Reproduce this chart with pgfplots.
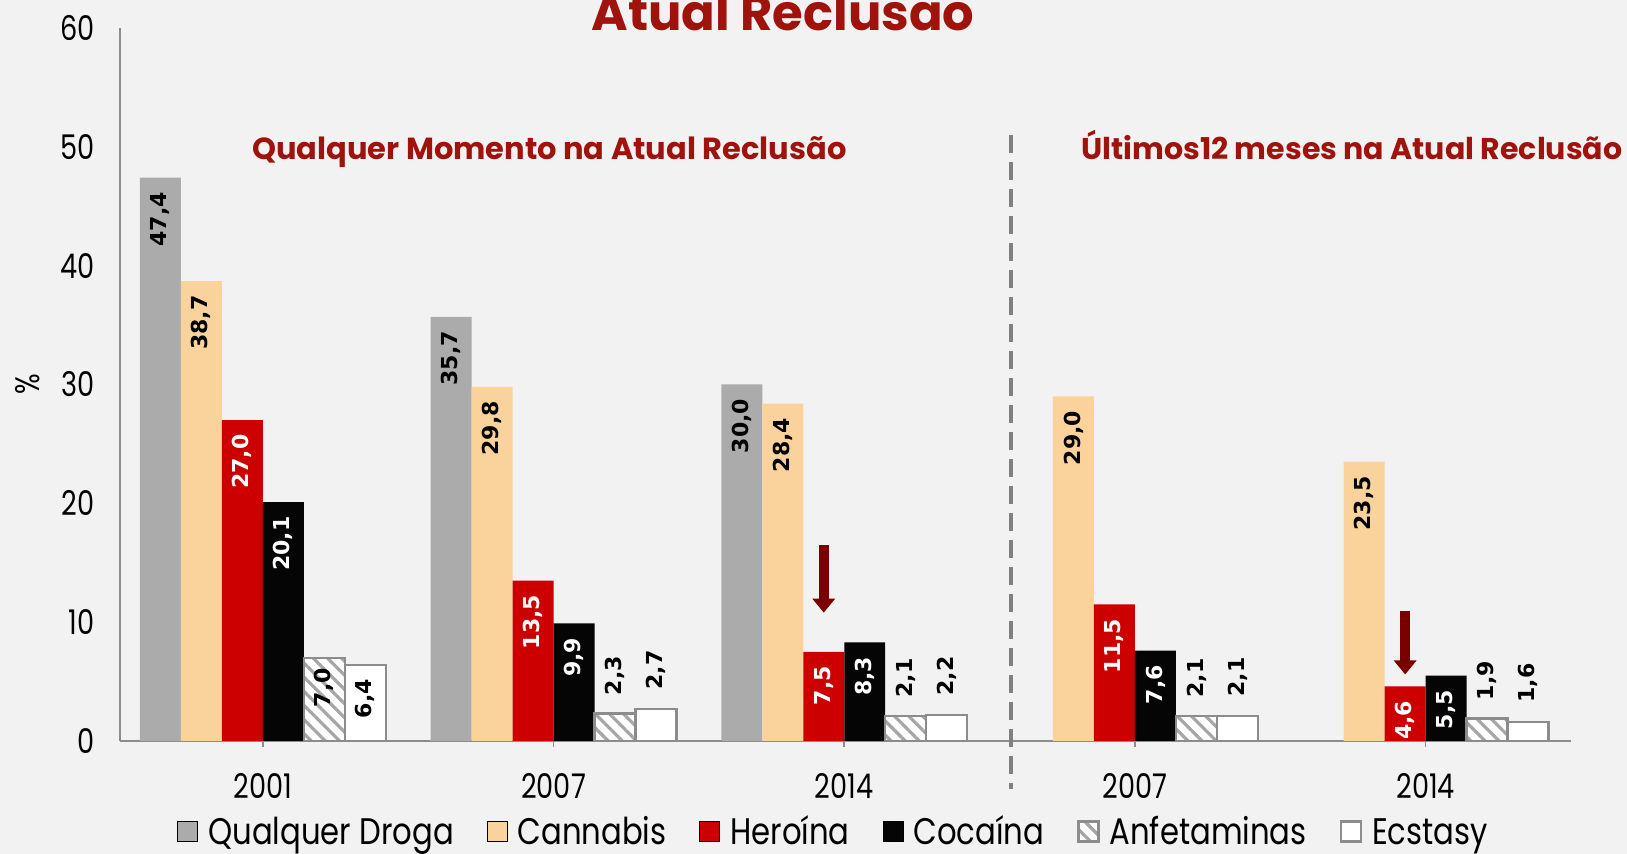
\documentclass[border=0pt]{standalone}
\usepackage{pgfplots}
\pgfplotsset{compat=1.18}
\usepackage{pgfplotstable}
\usetikzlibrary{patterns.meta,arrows.meta}
\usepackage{fontspec}
\setmainfont{Poppins}
\newfontfamily\labelfont{DejaVu Sans}

\definecolor{bg}{HTML}{F2F2F2}
\definecolor{titred}{HTML}{A0120C}
\definecolor{axgray}{HTML}{8C8C8C}
\definecolor{dashgray}{HTML}{808080}
\definecolor{droga}{HTML}{ABABAB}
\definecolor{cann}{HTML}{FAD29C}
\definecolor{her}{HTML}{CC0000}
\definecolor{coc}{HTML}{050505}
\definecolor{stripe}{HTML}{A6A6A6}
\definecolor{arrowred}{HTML}{7A0000}

\newcommand{\tl}[1]{\scalebox{0.8}[1]{\fontsize{17}{19}\selectfont #1}}
\newcommand{\legtxt}[1]{\scalebox{0.83}[1]{\fontsize{18.5}{20}\selectfont\vphantom{Íg}#1}}
\newcommand{\labfnt}{\labelfont\bfseries\fontsize{11}{13}\selectfont}

% prevalence (%), x: 0=2001 1=2007 2=2014 (any time), 3=2007 4=2014 (last 12 months)
\pgfplotstableread{
x y
0 47.4
1 35.7
2 30.0
}\droga
\pgfplotstableread{
x y
0 38.7
1 29.8
2 28.4
3 29.0
4 23.5
}\cannabis
\pgfplotstableread{
x y
0 27.0
1 13.5
2 7.5
3 11.5
4 4.6
}\heroina
\pgfplotstableread{
x y
0 20.1
1 9.9
2 8.3
3 7.6
4 5.5
}\cocaina
\pgfplotstableread{
x y
0 7.0
1 2.3
2 2.1
3 2.1
4 1.9
}\anfet
\pgfplotstableread{
x y
0 6.4
1 2.7
2 2.2
3 2.1
4 1.6
}\ecstasy

\pgfplotsset{
  bars/.style={ybar, bar width=0.141, bar shift=#1,
    legend image code/.code={\draw[##1] (0pt,-6.5pt) rectangle (10pt,3.5pt);}},
  vals/.style 2 args={nodes near coords={\pgfmathprintnumber[fixed,fixed zerofill,precision=1,use comma,assume math mode=true]{\pgfplotspointmeta}},
    every node near coord/.append style={font=\labfnt, xshift=#2, rotate=90, anchor=east, inner xsep=7pt, inner ysep=0pt, text=#1}},
  outside/.style={every node near coord/.append style={anchor=west, inner xsep=#1}},
  inside/.style={every node near coord/.append style={inner xsep=#1}},
}

\begin{document}
\begin{tikzpicture}
\fill[bg] (-60.2pt,-56.5pt) rectangle (753.3pt,370.5pt);
\begin{axis}[
  at={(0pt,0pt)}, anchor=south west,
  scale only axis, width=725.3pt, height=356.5pt,
  xmin=-0.49, xmax=4.5, ymin=0, ymax=60,
  clip=false,
  axis x line*=bottom, axis y line*=left,
  axis line style={draw=axgray, line width=1pt, -},
  xtick={0,1,2,3,4},
  xticklabels={\tl{2001},\tl{2007},\tl{2014},\tl{2007},\tl{2014}},
  ytick={0,10,...,60},
  yticklabels={\tl{0},\tl{10},\tl{20},\tl{30},\tl{40},\tl{50},\tl{60}},
  xtick style={draw=axgray, line width=0.8pt},
  ytick style={draw=none},
  tick align=outside, major tick length=3pt,
  xticklabel style={anchor=north, inner sep=0pt, yshift=-13pt},
  yticklabel style={anchor=east, inner sep=0pt, xshift=-9.7pt},
  ylabel={\tl{\%}},
  ylabel style={at={(axis description cs:-0.0637,0.5)}, anchor=center, inner sep=0pt},
  legend columns=6,
  legend cell align=left,
  legend style={at={(axis description cs:0.039,-0.096)}, anchor=north west,
    draw=none, fill=none, inner sep=0pt, nodes={inner sep=0pt},
    /tikz/every odd column/.append style={column sep=5pt},
    /tikz/every even column/.append style={column sep=16.5pt}},
]

\addplot[bars=-0.3525, draw=none, fill=droga, vals={black}{-51.24pt}]
  table[x=x,y=y] {\droga};
\addplot[bars=-0.2115, draw=none, fill=cann, vals={black}{-30.74pt}]
  table[x=x,y=y] {\cannabis};
\addplot[bars=-0.0705, draw=none, fill=her, vals={white}{-10.25pt}]
  table[x=x,y=y] {\heroina};
\addplot[bars=0.0705, draw=none, fill=coc, vals={white}{10.25pt}]
  table[x=x,y=y] {\cocaina};
\addplot[bars=0.2115, fill=white, draw=axgray, line width=1.2pt,
  postaction={pattern={Lines[angle=-45,distance=5pt,line width=1.6pt]}, pattern color=stripe}]
  table[x=x,y=y] {\anfet};
\addplot[bars=0.3525, fill=white, draw=axgray, line width=1.2pt]
  table[x=x,y=y] {\ecstasy};

\legend{\legtxt{Qualquer Droga}, \legtxt{Cannabis}, \legtxt{Heroína}, \legtxt{Cocaína}, \legtxt{Anfetaminas}, \legtxt{Ecstasy}}

% value labels of the two small series: inside the 2001 bars, above the others
\addplot[forget plot, draw=none, mark=none, vals={black}{30.74pt}, inside=5pt]
  table[x=x,y=y, skip coords between index={1}{5}] {\anfet};
\addplot[forget plot, draw=none, mark=none, vals={black}{30.74pt}, outside=9pt]
  table[x=x,y=y, skip coords between index={0}{1}] {\anfet};
\addplot[forget plot, draw=none, mark=none, vals={black}{51.24pt}, inside=7pt]
  table[x=x,y=y, skip coords between index={1}{5}] {\ecstasy};
\addplot[forget plot, draw=none, mark=none, vals={black}{51.24pt}, outside=9.5pt]
  table[x=x,y=y, skip coords between index={0}{1}] {\ecstasy};

\draw[dashgray, line width=2pt, dash pattern=on 9pt off 4.5pt] (axis cs:2.573,51) -- (axis cs:2.573,-4);
\draw[arrowred, line width=5pt, -{Triangle[width=11pt,length=7pt]}] (axis cs:1.9295,16.5) -- (axis cs:1.9295,10.8);
\draw[arrowred, line width=5pt, -{Triangle[width=11pt,length=7pt]}] (axis cs:3.9295,10.9) -- (axis cs:3.9295,5.6);
\end{axis}

\node[anchor=base, text=titred, inner sep=0pt] at (331.3pt,355pt)
  {\resizebox{191.5pt}{!}{\fontsize{26}{28}\selectfont\bfseries Atual Reclusão}};
\node[anchor=base west, text=titred, inner sep=0pt] at (65.8pt,290.5pt)
  {\resizebox{297pt}{!}{\fontsize{16}{18}\selectfont\bfseries Qualquer Momento na Atual Reclusão}};
\node[anchor=base west, text=titred, inner sep=0pt] at (480.3pt,290.5pt)
  {\resizebox{270.5pt}{!}{\fontsize{16}{18}\selectfont\bfseries Últimos12 meses na Atual Reclusão}};

\pgfresetboundingbox
\useasboundingbox (-60.2pt,-56.5pt) rectangle (753.3pt,370.5pt);
\end{tikzpicture}
\end{document}
